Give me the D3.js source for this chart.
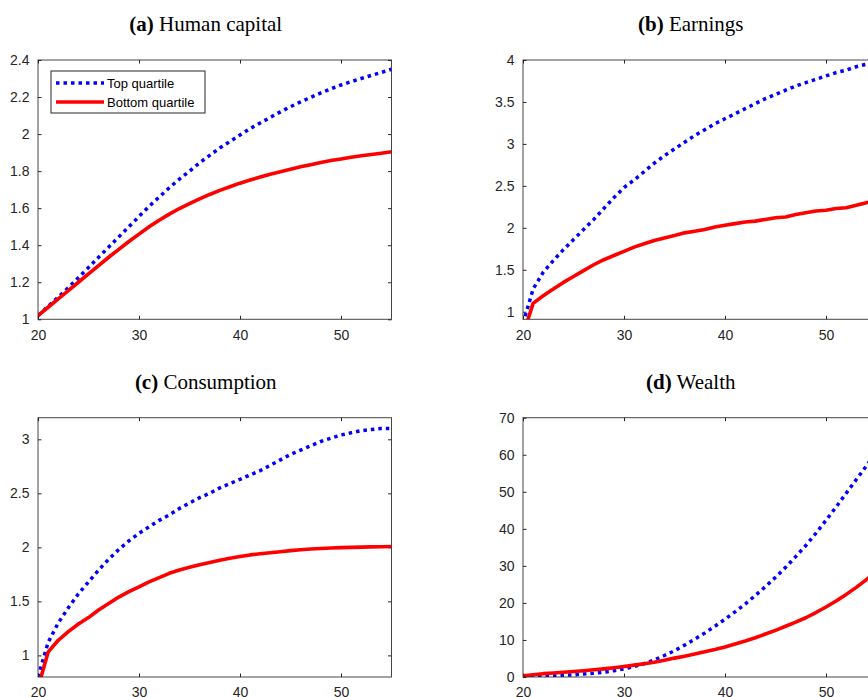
<!DOCTYPE html>
<html><head><meta charset="utf-8">
<script src="https://cdn.jsdelivr.net/npm/d3@7"></script>
<style>body{margin:0;background:#fff;overflow:hidden}</style>
</head><body>
<svg id="chart" width="868" height="697"></svg>
<script>
// ---- data ----
const ages = [20,21,22,23,24,25,26,27,28,29,30,31,32,33,34,35,36,37,38,39,40,41,42,43,44,45,46,47,48,49,50,51,52,53,54,55];
const xTicks = [20,30,40,50];
const seriesNames = ["Top quartile","Bottom quartile"];

const humanTop = [1.02,1.07,1.12,1.17,1.225,1.28,1.335,1.39,1.445,1.50,1.555,1.61,1.66,1.71,1.757,1.80,1.845,1.885,1.925,1.96,1.995,2.03,2.06,2.09,2.12,2.148,2.174,2.198,2.222,2.244,2.265,2.283,2.30,2.317,2.333,2.35];
const humanBottom = [1.02,1.065,1.11,1.155,1.20,1.245,1.29,1.335,1.378,1.42,1.46,1.50,1.535,1.568,1.598,1.625,1.65,1.674,1.696,1.716,1.735,1.752,1.768,1.783,1.797,1.81,1.823,1.835,1.847,1.857,1.866,1.875,1.883,1.89,1.897,1.905];

const earnTop = [0.86,1.27,1.47,1.61,1.74,1.86,1.98,2.10,2.23,2.36,2.48,2.57,2.67,2.77,2.86,2.94,3.02,3.10,3.17,3.24,3.30,3.36,3.42,3.48,3.54,3.59,3.64,3.69,3.73,3.77,3.81,3.85,3.88,3.92,3.95,3.98];
const earnBottom = [0.72,1.10,1.19,1.27,1.35,1.42,1.49,1.56,1.62,1.67,1.72,1.77,1.81,1.85,1.88,1.91,1.94,1.96,1.98,2.01,2.03,2.05,2.07,2.08,2.10,2.12,2.13,2.16,2.18,2.20,2.21,2.23,2.24,2.27,2.30,2.33];

const consTop = [0.80,1.12,1.30,1.44,1.57,1.68,1.79,1.89,1.98,2.06,2.13,2.19,2.25,2.30,2.36,2.41,2.46,2.50,2.55,2.59,2.63,2.67,2.71,2.76,2.81,2.86,2.90,2.94,2.98,3.01,3.04,3.06,3.08,3.09,3.10,3.10];
const consBottom = [0.70,1.03,1.14,1.22,1.29,1.35,1.42,1.48,1.54,1.59,1.635,1.68,1.72,1.76,1.79,1.815,1.84,1.86,1.88,1.90,1.915,1.93,1.94,1.95,1.96,1.97,1.978,1.985,1.99,1.994,1.997,2.0,2.002,2.004,2.006,2.008];

const wealthTop = [0,0.1,0.2,0.3,0.45,0.6,0.8,1.0,1.3,1.7,2.2,2.8,3.6,4.6,5.8,7.1,8.6,10.2,11.9,13.7,15.6,17.6,19.7,22.0,24.4,26.9,29.6,32.5,35.5,38.8,42.3,45.9,49.6,53.3,57.0,60.8];
const wealthBottom = [0.3,0.6,0.9,1.1,1.3,1.5,1.7,1.95,2.2,2.5,2.85,3.2,3.6,4.0,4.5,5.1,5.6,6.2,6.8,7.4,8.1,8.9,9.7,10.6,11.6,12.6,13.7,14.8,16.0,17.4,18.9,20.5,22.3,24.2,26.3,28.5];

const yTicksHuman = [1,1.2,1.4,1.6,1.8,2,2.2,2.4];
const yTicksEarn = [1,1.5,2,2.5,3,3.5,4];
const yTicksCons = [1,1.5,2,2.5,3];
const yTicksWealth = [0,10,20,30,40,50,60,70];

const panelLetters = ["(a)","(b)","(c)","(d)"];
const panelNames = ["Human capital","Earnings","Consumption","Wealth"];

// ---- layout ----
const svg = d3.select("#chart");
const colLeft = [38, 523];
const rowTop = [60, 417.7];
const plotW = 353.5, plotH = 259.3;

const panels = [
  {top: humanTop, bottom: humanBottom, yDomain:[1,2.4], yTicks: yTicksHuman, col:0, row:0, legend:true},
  {top: earnTop, bottom: earnBottom, yDomain:[0.91,4], yTicks: yTicksEarn, col:1, row:0},
  {top: consTop, bottom: consBottom, yDomain:[0.8,3.2], yTicks: yTicksCons, col:0, row:1},
  {top: wealthTop, bottom: wealthBottom, yDomain:[0,70], yTicks: yTicksWealth, col:1, row:1}
];

const axisColor = "#262626";
const tickFont = "'Liberation Sans', Arial, Helvetica, sans-serif";
const blueStyle = {stroke:"#0000ff", width:3.5, dash:"3.5,4"};
const redStyle = {stroke:"#ff0000", width:3.6, dash:null};

panels.forEach((p, i) => {
  const x0 = colLeft[p.col], y0 = rowTop[p.row];
  const g = svg.append("g").attr("transform", `translate(${x0},${y0})`);
  const x = d3.scaleLinear().domain([20,55]).range([0, plotW]);
  const y = d3.scaleLinear().domain(p.yDomain).range([plotH, 0]);

  // title
  const t = svg.append("text")
    .attr("x", x0 + plotW/2 - 9).attr("y", y0 - 29)
    .attr("text-anchor","middle")
    .attr("font-family","'Liberation Serif','Times New Roman',Times,serif")
    .attr("font-size", 21).attr("fill","#000");
  t.append("tspan").attr("font-weight","bold").text(panelLetters[i]);
  t.append("tspan").text(" " + panelNames[i]);

  // clip
  const cid = "clip" + i;
  g.append("clipPath").attr("id", cid).append("rect")
    .attr("x",0).attr("y",0).attr("width",plotW).attr("height",plotH);

  // axes using d3 axes (inward ticks)
  const tl = 3.5;
  const fmt = d => String(d);
  const axB = g.append("g").attr("transform",`translate(0,${plotH})`)
    .call(d3.axisBottom(x).tickValues(xTicks).tickSize(-tl).tickPadding(tl+7).tickFormat(fmt));
  const axT = g.append("g")
    .call(d3.axisTop(x).tickValues(xTicks).tickSize(-tl).tickFormat(""));
  const axL = g.append("g")
    .call(d3.axisLeft(y).tickValues(p.yTicks).tickSize(-tl).tickPadding(tl+5).tickFormat(fmt));
  const axR = g.append("g").attr("transform",`translate(${plotW},0)`)
    .call(d3.axisRight(y).tickValues(p.yTicks).tickSize(-tl).tickFormat(""));
  [axB,axT,axL,axR].forEach(a => {
    a.select(".domain").remove();
    a.selectAll(".tick line").attr("stroke", axisColor).attr("stroke-width",1);
    a.selectAll(".tick text").attr("fill", axisColor)
      .attr("font-family", tickFont).attr("font-size", 14);
  });
  axB.selectAll(".tick text").attr("dy","0.71em");

  // lines
  const line = arr => d3.line().x((d,k) => x(ages[k])).y(d => y(d))(arr);
  const lg = g.append("g").attr("clip-path",`url(#${cid})`);
  lg.append("path").attr("d", line(p.top)).attr("fill","none")
    .attr("stroke", blueStyle.stroke).attr("stroke-width", blueStyle.width)
    .attr("stroke-dasharray", blueStyle.dash);
  lg.append("path").attr("d", line(p.bottom)).attr("fill","none")
    .attr("stroke", redStyle.stroke).attr("stroke-width", redStyle.width)
    .attr("stroke-linejoin","round");

  // box
  g.append("rect").attr("x",0).attr("y",0).attr("width",plotW).attr("height",plotH)
    .attr("fill","none").attr("stroke", axisColor).attr("stroke-width",1)
    .attr("opacity",0.85);

  if (p.legend) {
    const L = g.append("g").attr("transform", `translate(${51-x0},${71-y0})`);
    L.append("rect").attr("x",0).attr("y",0).attr("width",154).attr("height",42)
      .attr("fill","#fff").attr("stroke", axisColor).attr("stroke-width",1);
    const rows = [{name: seriesNames[0], s: blueStyle, yy: 12},
                  {name: seriesNames[1], s: redStyle, yy: 31}];
    rows.forEach(r => {
      L.append("line").attr("x1",5).attr("x2",53).attr("y1",r.yy).attr("y2",r.yy)
        .attr("stroke", r.s.stroke).attr("stroke-width", r.s.width)
        .attr("stroke-dasharray", r.s.dash);
      L.append("text").attr("x",56).attr("y",r.yy+4.5)
        .attr("font-family", tickFont).attr("font-size",13).attr("fill","#000")
        .text(r.name);
    });
  }
});
</script>
</body></html>
